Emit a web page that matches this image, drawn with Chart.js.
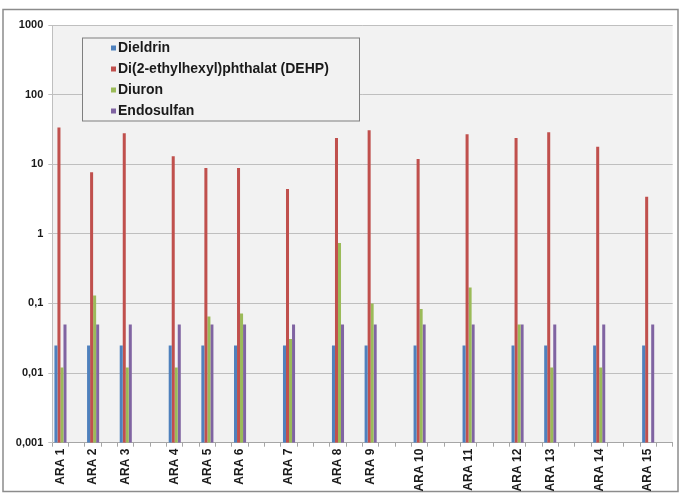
<!DOCTYPE html>
<html>
<head>
<meta charset="utf-8">
<script src="https://cdn.jsdelivr.net/npm/chart.js@4/dist/chart.umd.min.js"></script>
<style>
html,body{margin:0;padding:0;background:#ffffff;}
#wrap{position:relative;width:681px;height:494px;}
</style>
</head>
<body>
<div id="wrap"><canvas id="c" width="681" height="494"></canvas></div>
<script>
// Categories (blank entries are empty slots on the axis, as in the original sheet)
const categories = ['ARA 1','','ARA 2','','ARA 3','','','ARA 4','','ARA 5','','ARA 6','','','ARA 7','','','ARA 8','','ARA 9','','','ARA 10','','','ARA 11','','','ARA 12','','ARA 13','','','ARA 14','','','ARA 15',''];

// Values per ARA site (ARA 1 .. ARA 15)
const dieldrin   = [0.025,0.025,0.025,0.025,0.025,0.025,0.025,0.025,0.025,0.025,0.025,0.025,0.025,0.025,0.025];
const dehp       = [33.6,7.7,27.9,13.0,8.8,8.8,4.4,23.9,30.8,11.9,27.0,23.9,28.8,17.9,3.4];
const diuron     = [0.012,0.13,0.012,0.012,0.065,0.072,0.031,0.74,0.10,0.083,0.17,0.05,0.012,0.012,null];
const endosulfan = [0.05,0.05,0.05,0.05,0.05,0.05,0.05,0.05,0.05,0.05,0.05,0.05,0.05,0.05,0.05];

const seriesNames = ['Dieldrin','Di(2-ethylhexyl)phthalat (DEHP)','Diuron','Endosulfan'];
const seriesColors = ['#4f81bd','#c0504d','#9bbb59','#8064a2'];

// Y axis ticks
const yTickValues = [0.001,0.01,0.1,1,10,100,1000];
const yTickLabels = ['0,001','0,01','0,1','1','10','100','1000'];

// spread per-site values over the category slots
function spread(vals){
  let k = 0;
  return categories.map(c => c === '' ? null : vals[k++]);
}

const FONT = "'Liberation Sans', Arial, sans-serif";

const bgPlugin = {
  id: 'bg',
  beforeDraw(chart){
    const ctx = chart.ctx, a = chart.chartArea;
    ctx.save();
    // outer frame
    ctx.fillStyle = '#ffffff';
    ctx.fillRect(0,0,chart.width,chart.height);
    ctx.strokeStyle = '#8c8c8c';
    ctx.lineWidth = 1.5;
    ctx.strokeRect(3,9.5,675,482);
    // plot area
    ctx.fillStyle = '#f2f2f2';
    ctx.fillRect(a.left, a.top, a.right - a.left, a.bottom - a.top);
    ctx.restore();
  }
};

const legendPlugin = {
  id: 'boxLegend',
  afterDatasetsDraw(chart){
    const ctx = chart.ctx;
    ctx.save();
    const x0 = 82, y0 = 37.5, w = 277, h = 83;
    ctx.fillStyle = '#f2f2f2';
    ctx.fillRect(x0, y0, w, h);
    ctx.strokeStyle = '#7f7f7f';
    ctx.lineWidth = 1;
    ctx.strokeRect(x0 + 0.5, y0 + 0.5, w, h);
    ctx.font = "bold 14px " + FONT;
    ctx.textBaseline = 'middle';
    chart.data.datasets.forEach((ds, i) => {
      const cy = 48 + i * 21;
      ctx.fillStyle = ds.backgroundColor;
      ctx.fillRect(111, cy - 2.5, 5, 5);
      ctx.fillStyle = '#1a1a1a';
      ctx.fillText(ds.label, 118, cy + 0.5);
    });
    ctx.restore();
  }
};

new Chart(document.getElementById('c'), {
  type: 'bar',
  data: {
    labels: categories,
    datasets: [dieldrin, dehp, diuron, endosulfan].map((vals, i) => ({
      label: seriesNames[i],
      data: spread(vals),
      backgroundColor: seriesColors[i],
      borderWidth: 0,
      categoryPercentage: 0.74,
      barPercentage: 1.0
    }))
  },
  options: {
    responsive: false,
    animation: false,
    layout: { padding: { top: 25, right: 7.4, bottom: 0, left: 0 } },
    plugins: { legend: { display: false }, tooltip: { enabled: false } },
    scales: {
      x: {
        grid: { display: true, drawOnChartArea: false, drawTicks: true, tickLength: 4, color: '#a6a6a6', offset: true },
        border: { color: '#a6a6a6' },
        ticks: {
          autoSkip: false, maxRotation: 90, minRotation: 90, padding: 2,
          font: { family: FONT, size: 12, weight: 'bold' }, color: '#1a1a1a'
        },
        afterFit(s){ s.height = 51.3; }
      },
      y: {
        type: 'logarithmic',
        min: 0.001, max: 1000,
        grid: { color: '#bfbfbf', tickLength: 4 },
        border: { color: '#bfbfbf' },
        ticks: {
          padding: 5,
          font: { family: FONT, size: 11, weight: 'bold' }, color: '#1a1a1a',
          callback: (v) => { const i = yTickValues.indexOf(v); return i >= 0 ? yTickLabels[i] : ''; }
        },
        afterBuildTicks(s){ s.ticks = yTickValues.map(v => ({ value: v })); },
        afterFit(s){ s.width = 52.3; }
      }
    }
  },
  plugins: [bgPlugin, legendPlugin]
});
</script>
</body>
</html>
